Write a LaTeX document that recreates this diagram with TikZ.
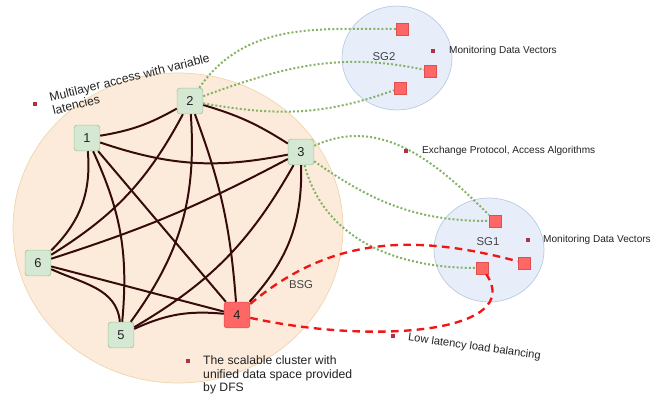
\documentclass[tikz,border=0pt]{standalone}
\usepackage{fontspec}
\setmainfont{Liberation Sans}
\usetikzlibrary{positioning}
\definecolor{peach}{HTML}{FCEBDA}
\definecolor{peachline}{HTML}{EFD5AE}
\definecolor{bluefill}{HTML}{E7EEF9}
\definecolor{blueline}{HTML}{BACAE3}
\definecolor{grnfill}{HTML}{D5E8D4}
\definecolor{grnline}{HTML}{A3C99C}
\definecolor{redfill}{HTML}{FF6666}
\definecolor{redline}{HTML}{DC5050}
\definecolor{edgebrown}{HTML}{350B0B}
\definecolor{grdots}{HTML}{82B366}
\definecolor{dashred}{HTML}{F01616}
\definecolor{dotred}{HTML}{B2303F}
\definecolor{txt}{HTML}{222222}

\begin{document}
\begin{tikzpicture}[x=0.03cm,y=0.03cm,
	grn/.style={draw=grnline,fill=grnfill,rounded corners=2.5pt,minimum size=22pt,
		inner sep=0pt,line width=0.6pt,text=txt,font=\fontsize{11}{13}\selectfont},
	hot/.style={grn,draw=redline,fill=redfill},
	sqr/.style={draw=redline,fill=redfill,minimum size=10pt,inner sep=0pt,line width=0.4pt},
	dt/.style={fill=dotred,minimum size=2.6pt,inner sep=0pt},
	lnk/.style={draw=edgebrown,line width=1.7pt},
	grnlink/.style={draw=grdots,line width=1.7pt,dash pattern=on 1.7pt off 1.8pt},
	redlink/.style={draw=dashred,line width=2pt,dash pattern=on 6.5pt off 4.5pt},
	note/.style={inner sep=0pt,align=left,text=txt,font=\fontsize{10.4}{11.5}\selectfont},
	small/.style={inner sep=0pt,text=txt,font=\fontsize{8.6}{10}\selectfont},
	lab/.style={inner sep=0pt,text=txt!85,font=\fontsize{9.7}{11}\selectfont}]
	\useasboundingbox (0,0) rectangle (669,396);
	% groups
	\filldraw[fill=peach,draw=peachline,line width=0.6pt] (178,168) ellipse (165 and 155);
	\filldraw[fill=bluefill,draw=blueline,line width=0.6pt] (397,338) ellipse (55 and 52);
	\filldraw[fill=bluefill,draw=blueline,line width=0.6pt] (489,146) ellipse (55 and 52);
	\node[lab] (bsg) at (301,111) {BSG};
	\node[lab] (sg2) at (384,339) {SG2};
	\node[lab] (sg1) at (488,154) {SG1};
	% cluster
	\node[grn] (1) at (87,258) {1};
	\node[grn] (2) at (190,295) {2};
	\node[grn] (3) at (301,244) {3};
	\node[hot] (4) at (237,81) {4};
	\node[grn] (5) at (121,61) {5};
	\node[grn] (6) at (38,133) {6};
	\node[sqr] (a) at (402,367) {};
	\node[sqr] (b) at (430,325) {};
	\node[sqr] (c) at (400,308) {};
	\node[sqr] (d) at (495,175) {};
	\node[sqr] (e) at (482,128) {};
	\node[sqr] (f) at (524,133) {};
	\draw[lnk] (1) to[bend right=10] (2);
	\draw[lnk] (1) to[bend right=15] (3);
	\draw[lnk] (1) to (4);
	\draw[lnk] (1) to[bend left=15] (5);
	\draw[lnk] (1) to[bend left=25] (6);
	\draw[lnk] (2) to[bend left=8] (3);
	\draw[lnk] (2) to[bend left=8] (4);
	\draw[lnk] (2) to[bend left=20] (5);
	\draw[lnk] (2) to[bend left=15] (6);
	\draw[lnk] (3) to[bend left=22] (4);
	\draw[lnk] (3) to[bend left=15] (5);
	\draw[lnk] (3) to[bend left=5] (6);
	\draw[lnk] (5) to[bend left=15] (4);
	\draw[lnk] (6) to (4);
	\draw[lnk] (6) to[out=-25,in=95] (5);
	% exchange
	\draw[grnlink] (2) to[out=55,in=180] (a);
	\draw[grnlink] (2) to[out=20,in=168] (b);
	\draw[grnlink] (2) to[out=-10,in=-160] (c);
	\draw[grnlink] (3) to[out=25,in=135] (d);
	\draw[grnlink] (3) to[out=-35,in=180] (d);
	\draw[grnlink] (3) to[out=-75,in=180] (e);
	\draw[redlink] (4) to[out=40,in=165] (f);
	\draw[redlink] (4) .. controls (380,50) and (525,65) .. (e);
	% notes
	\node[dt] (m1) at (35,292) {};
	\node[note,rotate=14,anchor=west] (n1) at (51,292) {Multilayer access with variable\\latencies};
	\node[dt] (m2) at (188,35) {};
	\node[note,anchor=west] (n2) at (203,21) {The scalable cluster with\\unified data space provided\\by DFS};
	\node[dt] (m3) at (406,245) {};
	\node[small,anchor=west] (n3) at (422,245) {Exchange Protocol, Access Algorithms};
	\node[dt] (m4) at (433,345) {};
	\node[small,anchor=west] (n4) at (449,345) {Monitoring Data Vectors};
	\node[dt] (m5) at (528,156) {};
	\node[small,anchor=west] (n5) at (543,156) {Monitoring Data Vectors};
	\node[dt] (m6) at (393,60) {};
	\node[note,font=\fontsize{9.5}{11}\selectfont,rotate=-8,anchor=west] (n6) at (408,58) {Low latency load balancing};
\end{tikzpicture}
\end{document}
